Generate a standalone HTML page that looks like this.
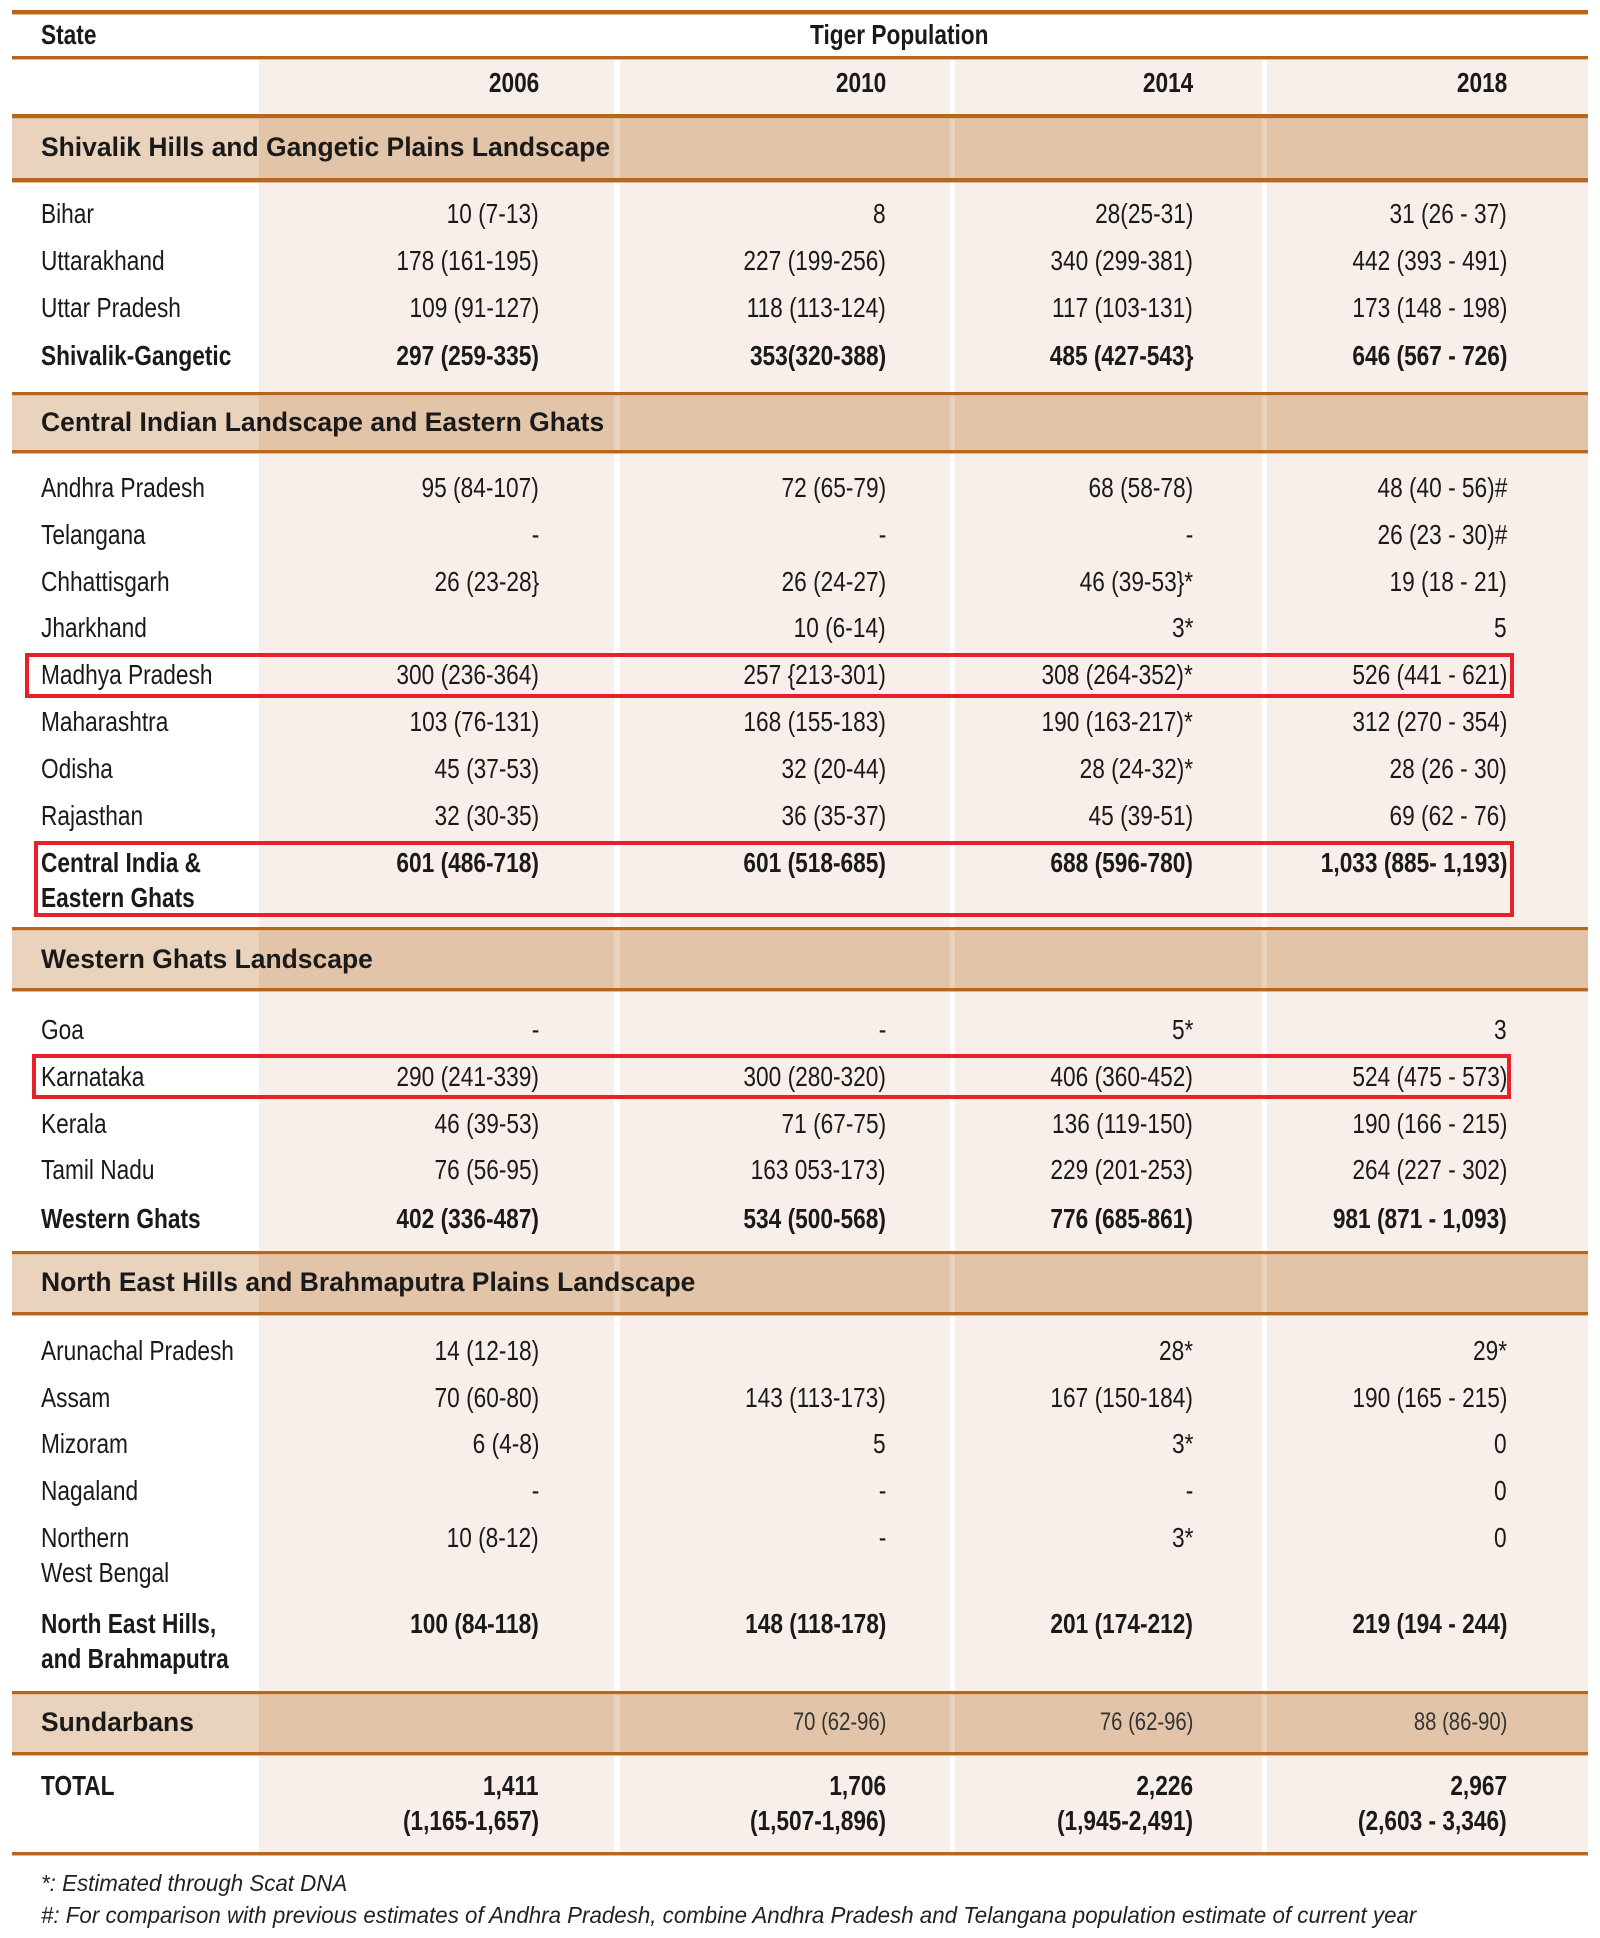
<!DOCTYPE html>
<html><head><meta charset="utf-8">
<style>
html,body{margin:0;padding:0;background:#fff;}
#root{position:relative;width:1600px;height:1938px;overflow:hidden;font-family:"Liberation Sans",sans-serif;color:#1a1a1a;font-size:28px;}
.abs{position:absolute;}
.t{position:absolute;white-space:nowrap;line-height:30px;transform:translateY(-15px) scaleX(0.81);transform-origin:left center;}
.r{transform-origin:right center;text-align:right;}
.b{font-weight:bold;}
.sec{transform:translateY(-15px) scaleX(0.98);font-size:27px;}
.i{font-style:italic;font-size:23px;color:#222;transform:translateY(-15px) scaleX(0.97);}
.line{position:absolute;left:12px;width:1576px;height:3px;background:#b8661e;border-bottom:1px solid #e0b890;}
.band{position:absolute;left:12px;width:1576px;}
.col{position:absolute;background:#f9efea;}
.box{position:absolute;border:4px solid #e8202a;box-sizing:border-box;}
</style></head><body>
<div id="root"></div>
<script>
const states = ["Bihar","Uttarakhand","Uttar Pradesh","Shivalik-Gangetic","Andhra Pradesh","Telangana","Chhattisgarh","Jharkhand","Madhya Pradesh","Maharashtra","Odisha","Rajasthan","Central India &|Eastern Ghats","Goa","Karnataka","Kerala","Tamil Nadu","Western Ghats","Arunachal Pradesh","Assam","Mizoram","Nagaland","Northern|West Bengal","North East Hills,|and Brahmaputra","TOTAL"];
const v2006 = ["10 (7-13)","178 (161-195)","109 (91-127)","297 (259-335)","95 (84-107)","-","26 (23-28}","","300 (236-364)","103 (76-131)","45 (37-53)","32 (30-35)","601 (486-718)","-","290 (241-339)","46 (39-53)","76  (56-95)","402 (336-487)","14 (12-18)","70 (60-80)","6 (4-8)","-","10 (8-12)","100 (84-118)","1,411|(1,165-1,657)"];
const v2010 = ["8","227 (199-256)","118 (113-124)","353(320-388)","72  (65-79)","-","26   (24-27)","10  (6-14)","257 {213-301)","168 (155-183)","32  (20-44)","36  (35-37)","601 (518-685)","-","300 (280-320)","71  (67-75)","163 053-173)","534 (500-568)","","143 (113-173)","5","-","-","148 (118-178)","1,706|(1,507-1,896)"];
const v2014 = ["28(25-31)","340 (299-381)","117 (103-131)","485 (427-543}","68 (58-78)","-","46 (39-53}*","3*","308 (264-352)*","190 (163-217)*","28 (24-32)*","45 (39-51)","688 (596-780)","5*","406 (360-452)","136 (119-150)","229 (201-253)","776 (685-861)","28*","167 (150-184)","3*","-","3*","201 (174-212)","2,226|(1,945-2,491)"];
const v2018 = ["31 (26 - 37)","442 (393 - 491)","173 (148 - 198)","646 (567 - 726)","48 (40 - 56)#","26 (23 - 30)#","19 (18 - 21)","5","526 (441 - 621)","312 (270 - 354)","28 (26 - 30)","69 (62 - 76)","1,033 (885- 1,193)","3","524 (475 - 573)","190 (166 - 215)","264 (227 - 302)","981 (871 - 1,093)","29*","190 (165 - 215)","0","0","0","219 (194 - 244)","2,967|(2,603 - 3,346)"];
const boldRows = [3,12,17,23,24];
const sections = ["Shivalik Hills and Gangetic Plains Landscape","Central Indian Landscape and Eastern Ghats","Western Ghats Landscape","North East Hills and Brahmaputra Plains Landscape","Sundarbans"];
const sundarbans = ["","70 (62-96)","76 (62-96)","88 (86-90)"];
const years = ["2006","2010","2014","2018"];

const root=document.getElementById('root');
const SY=1.236;
function mk(cls,css,txt){const d=document.createElement('div');d.className=cls;Object.assign(d.style,css);if(txt!==undefined)d.textContent=txt;root.appendChild(d);return d;}
const colX=[[259,614],[620,950],[955,1262],[1267,1588]];
const rightX=[539,886,1193,1507];
colX.forEach((c,k)=>{const d=mk('col',{left:c[0]+'px',width:(c[1]-c[0])+'px',top:'58px',height:(1853-58)+'px'});

});
const bandY=[[93,145],[318,365],[751,800],[1013,1062],[1369,1418]];
bandY.forEach((b,k)=>{
 const top=Math.round(b[0]*SY),h=Math.round((b[1]-b[0])*SY);
 const a=mk('band',{top:top+'px',height:h+'px',background:'#e9d3bd'});
 
 
 colX.forEach(c=>{const d=mk('abs',{left:c[0]+'px',width:(c[1]-c[0])+'px',top:top+'px',height:h+'px',background:'#e2c4a8'});
 
 });
 const t=mk('t b sec',{left:'41px',top:((b[0]+b[1])/2*SY)+'px'},sections[k]);
 
 
 if(k===4){sundarbans.forEach((s,j)=>{if(!s)return;const e=mk('t r',{right:(1600-rightX[j])+'px',top:((b[0]+b[1])/2*SY)+'px',fontSize:'25px',color:'#333'},s);
 
 });}
});
[9,46,93,145,318,365,751,800,1013,1062,1369,1418,1499].forEach(y=>{const l=mk('line',{top:Math.round(y*SY)-1+'px'});
if(y===93||y===145||y===9){l.style.height='4px';}

});
let h=mk('t b',{left:'41px',top:(28*SY)+'px'},'State');
h=mk('t b',{left:'810px',top:(28*SY)+'px'},'Tiger Population');
years.forEach((y,j)=>{const e=mk('t b r',{right:(1600-rightX[j])+'px',top:(67*SY)+'px'},y);

});
const rowY=[173,211,249,288,395,433,471,508,546,584,622,660,698,833,871,909,947,986,1093,1131,1168,1206,1244,1314,1445];
const cols=[v2006,v2010,v2014,v2018];
states.forEach((s,i)=>{
 const y=rowY[i]*SY,bold=boldRows.includes(i);
 s.split('|').forEach((p,k)=>{const e=mk('t'+(bold?' b':''),{left:'41px',top:(y+k*35)+'px'},p);
 
 });
 cols.forEach((c,j)=>{c[i].split('|').forEach((p,k)=>{if(!p)return;const e=mk('t r'+(bold?' b':''),{right:(1600-rightX[j])+'px',top:(y+k*35)+'px'},p);
 
 });});
});
[[25,653,1514,698],[34,841,1514,917],[32,1054,1511,1099]].forEach(b=>{const d=mk('box',{left:b[0]+'px',top:b[1]+'px',width:(b[2]-b[0])+'px',height:(b[3]-b[1])+'px'});

});
let f=mk('t i',{left:'41px',top:'1883px'},'*: Estimated through Scat DNA');
f=mk('t i',{left:'41px',top:'1915px'},'#: For comparison with previous estimates of Andhra Pradesh, combine Andhra Pradesh and Telangana population estimate of current year');
</script>
</body></html>
